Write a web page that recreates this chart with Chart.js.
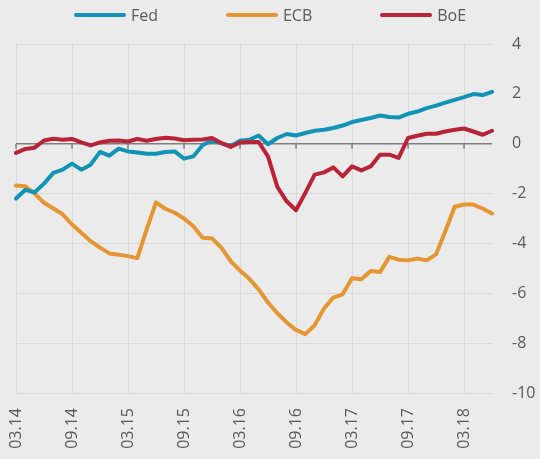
<!DOCTYPE html>
<html>
<head>
<meta charset="utf-8">
<script src="https://cdn.jsdelivr.net/npm/chart.js@4.4.0/dist/chart.umd.min.js"></script>
<style>
  html, body { margin: 0; padding: 0; background: #ebebeb; }
  #wrap { position: relative; width: 540px; height: 459px; }
  #legend {
    position: absolute; top: 4px; left: 0; width: 540px;
    display: flex; justify-content: center; gap: 68px;
    font: 16px "Open Sans", sans-serif; color: #595959;
  }
  .item { display: flex; align-items: center; }
  .mark { width: 52px; height: 4px; border-radius: 2px; margin-right: 5px; }
</style>
</head>
<body>
<div id="wrap">
  <canvas id="rateChart" width="540" height="459"></canvas>
  <div id="legend"></div>
</div>
<script>
// bulan (mm.yy)
const months = [
  "03.14", "04.14", "05.14", "06.14", "07.14", "08.14", "09.14", "10.14", "11.14", "12.14",
  "01.15", "02.15", "03.15", "04.15", "05.15", "06.15", "07.15", "08.15", "09.15", "10.15", "11.15", "12.15",
  "01.16", "02.16", "03.16", "04.16", "05.16", "06.16", "07.16", "08.16", "09.16", "10.16", "11.16", "12.16",
  "01.17", "02.17", "03.17", "04.17", "05.17", "06.17", "07.17", "08.17", "09.17", "10.17", "11.17", "12.17",
  "01.18", "02.18", "03.18", "04.18", "05.18", "06.18"
];

const fed = [
  -2.2, -1.85, -1.95, -1.6, -1.17, -1.04, -0.8, -1.04, -0.84, -0.33, -0.48, -0.2,
  -0.31, -0.35, -0.4, -0.4, -0.33, -0.31, -0.6, -0.51, -0.05, 0.12, 0.02, -0.1,
  0.12, 0.16, 0.33, -0.02, 0.23, 0.39, 0.33, 0.43, 0.52, 0.56, 0.63, 0.73,
  0.87, 0.95, 1.03, 1.13, 1.07, 1.05, 1.2, 1.29, 1.43, 1.53, 1.65, 1.76,
  1.87, 1.99, 1.95, 2.08
];

const ecb = [
  -1.68, -1.71, -2.0, -2.37, -2.6, -2.83, -3.24, -3.57, -3.91, -4.17, -4.4, -4.45,
  -4.51, -4.59, -3.44, -2.35, -2.61, -2.77, -3.0, -3.31, -3.77, -3.8, -4.17, -4.71,
  -5.09, -5.42, -5.84, -6.37, -6.8, -7.17, -7.47, -7.64, -7.28, -6.61, -6.17, -6.04,
  -5.4, -5.44, -5.11, -5.15, -4.54, -4.65, -4.68, -4.61, -4.68, -4.44, -3.51, -2.53,
  -2.44, -2.44, -2.6, -2.8
];

const boe = [
  -0.37, -0.21, -0.16, 0.13, 0.2, 0.16, 0.19, 0.05, -0.07, 0.05, 0.12, 0.13,
  0.09, 0.19, 0.12, 0.19, 0.24, 0.21, 0.14, 0.16, 0.17, 0.23, 0.03, -0.13,
  0.05, 0.07, 0.07, -0.51, -1.73, -2.31, -2.67, -1.97, -1.24, -1.15, -0.95, -1.31,
  -0.91, -1.07, -0.91, -0.44, -0.44, -0.57, 0.23, 0.32, 0.4, 0.4, 0.49, 0.56,
  0.61, 0.49, 0.36, 0.52
];

const yTicks = [-10, -8, -6, -4, -2, 0, 2, 4];
const labelEvery = 6; // label tiap 6 bulan

Chart.defaults.font.family = "'Open Sans', sans-serif";
Chart.defaults.font.size = 16;
Chart.defaults.color = "#595959";

// garis nol + tick kecil di bawahnya
const zeroLine = {
  id: "zeroLine",
  beforeDatasetsDraw(chart) {
    const { ctx, scales: { x, y } } = chart;
    const y0 = y.getPixelForValue(0);
    ctx.save();
    ctx.strokeStyle = "#7f7f7f";
    ctx.lineWidth = 1.5;
    ctx.beginPath();
    ctx.moveTo(x.left, y0);
    ctx.lineTo(x.right, y0);
    for (let i = 0; i < months.length; i += labelEvery) {
      const px = x.getPixelForValue(i);
      ctx.moveTo(px, y0);
      ctx.lineTo(px, y0 + 5);
    }
    ctx.stroke();
    ctx.restore();
  },
};

const line = (label, data, color, order) => ({
  label,
  data,
  borderColor: color,
  backgroundColor: color,
  borderWidth: 4,
  pointRadius: 0,
  tension: 0,
  borderJoinStyle: "round",
  borderCapStyle: "round",
  order,
});

const chart = new Chart(document.getElementById("rateChart").getContext("2d"), {
  type: "line",
  data: {
    labels: months,
    datasets: [
      line("Fed", fed, "#1093b5", 1),
      line("ECB", ecb, "#e39632", 2),
      line("BoE", boe, "#b82338", 0),
    ],
  },
  options: {
    responsive: false,
    animation: false,
    layout: { padding: { top: 44, left: 16, right: 2, bottom: 6 } },
    plugins: {
      legend: { display: false },
      tooltip: { enabled: false },
    },
    scales: {
      x: {
        offset: false,
        border: { display: false },
        grid: {
          drawTicks: false,
          color: (c) => (c.index % labelEvery === 0 ? "#d9d9d9" : "transparent"),
        },
        ticks: {
          autoSkip: false,
          minRotation: 90,
          maxRotation: 90,
          padding: 15,
          callback: (v, i) => (i % labelEvery === 0 ? months[i] : ""),
        },
        afterFit: (axis) => {
          axis.height = 60;
        },
      },
      y: {
        position: "right",
        min: -10,
        max: 4,
        border: { display: false },
        grid: {
          drawTicks: false,
          color: (c) => (c.tick.value === 0 ? "transparent" : "#d9d9d9"),
        },
        afterBuildTicks: (axis) => {
          axis.ticks = yTicks.map((v) => ({ value: v }));
        },
        afterFit: (axis) => {
          axis.width = 46;
        },
        ticks: { padding: 20 },
      },
    },
  },
  plugins: [zeroLine],
});

// legend HTML
const legendEl = document.getElementById("legend");
chart.data.datasets.forEach((ds) => {
  const item = document.createElement("div");
  item.className = "item";
  item.innerHTML = `<span class="mark" style="background:${ds.borderColor}"></span><span>${ds.label}</span>`;
  legendEl.appendChild(item);
});
</script>
</body>
</html>
